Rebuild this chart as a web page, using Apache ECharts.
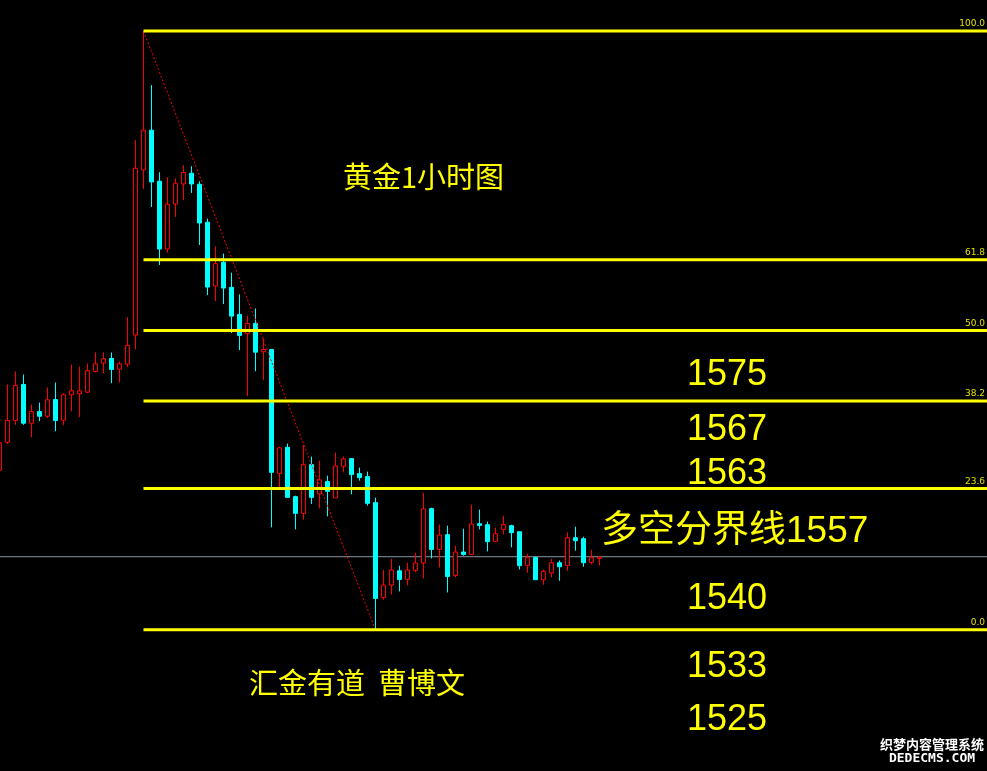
<!DOCTYPE html>
<html><head><meta charset="utf-8">
<script src="https://cdn.jsdelivr.net/npm/echarts@6/dist/echarts.min.js"></script>
<style>html,body{margin:0;padding:0;background:#000;overflow:hidden}#c{width:987px;height:771px}</style>
</head><body><div id="c"></div>
<script>
// [open, close, low, high] per 1-hour bar
const candles = [
[1556.13,1558.9,1556.1,1559.3],
[1558.93,1561.1,1558.77,1564.7],
[1561.1,1564.6,1560.67,1566.0],
[1564.7,1560.83,1560.67,1565.7],
[1560.83,1562.0,1559.43,1562.7],
[1562.0,1561.53,1561.03,1562.9],
[1561.53,1563.17,1561.33,1564.4],
[1563.2,1561.1,1560.03,1564.9],
[1561.13,1563.67,1560.63,1563.83],
[1563.67,1564.07,1562.03,1566.7],
[1563.77,1564.07,1561.43,1566.5],
[1563.93,1566.07,1563.83,1566.8],
[1566.0,1566.77,1565.9,1567.9],
[1566.83,1567.27,1565.83,1567.9],
[1567.3,1566.2,1564.83,1567.9],
[1566.23,1566.77,1564.9,1567.0],
[1566.73,1568.6,1566.43,1571.43],
[1569.63,1586.3,1568.2,1589.1],
[1586.13,1590.1,1584.23,1600.0],
[1590.1,1584.93,1582.43,1594.6],
[1585.0,1578.23,1576.63,1585.9],
[1578.23,1582.7,1577.87,1585.4],
[1582.73,1584.8,1581.43,1585.3],
[1584.73,1585.87,1583.13,1586.6],
[1585.8,1584.73,1583.83,1586.5],
[1584.7,1580.83,1578.63,1585.0],
[1580.9,1574.43,1573.63,1581.27],
[1574.53,1576.77,1573.03,1578.5],
[1576.9,1574.33,1572.73,1577.77],
[1574.4,1571.53,1569.83,1575.87],
[1571.7,1569.6,1568.13,1573.7],
[1569.77,1570.8,1563.53,1571.57],
[1570.8,1567.93,1566.03,1572.3],
[1567.97,1568.2,1565.13,1569.3],
[1568.2,1555.93,1550.43,1568.2],
[1555.83,1558.37,1554.4,1558.5],
[1558.43,1553.43,1553.4,1558.8],
[1553.5,1551.83,1550.23,1553.6],
[1551.83,1556.7,1551.2,1558.7],
[1556.7,1553.43,1552.77,1557.5],
[1553.77,1555.17,1552.33,1557.1],
[1555.0,1554.03,1551.53,1555.6],
[1553.37,1556.57,1553.37,1557.9],
[1556.53,1557.27,1555.93,1557.5],
[1557.3,1555.7,1553.73,1557.3],
[1555.8,1555.4,1555.1,1556.4],
[1555.5,1552.83,1552.6,1556.0],
[1552.9,1543.33,1540.2,1553.4],
[1543.43,1544.67,1543.2,1546.2],
[1544.67,1546.17,1543.73,1547.3],
[1546.1,1545.23,1544.03,1546.6],
[1545.23,1546.17,1544.63,1546.9],
[1546.13,1546.87,1545.93,1547.9],
[1546.87,1552.27,1545.33,1553.87],
[1552.3,1548.23,1547.33,1552.4],
[1548.23,1549.67,1546.43,1550.7],
[1549.7,1545.53,1543.93,1550.6],
[1545.63,1547.97,1545.43,1548.6],
[1547.97,1547.73,1547.6,1550.3],
[1547.73,1550.77,1547.73,1552.7],
[1550.8,1550.63,1550.23,1552.2],
[1550.7,1549.0,1548.03,1551.0],
[1549.03,1549.8,1548.93,1550.4],
[1550.23,1550.7,1549.73,1551.6],
[1550.6,1549.9,1548.43,1550.7],
[1550.0,1546.6,1546.23,1550.0],
[1546.63,1547.4,1545.9,1547.8],
[1547.43,1545.2,1545.2,1547.5],
[1545.2,1546.03,1544.7,1546.2],
[1545.87,1546.9,1545.43,1547.3],
[1546.9,1546.5,1545.1,1547.13],
[1546.63,1549.4,1546.1,1549.93],
[1549.4,1549.1,1548.1,1550.5],
[1549.3,1546.9,1546.5,1549.5],
[1546.93,1547.4,1546.73,1548.2],
[1547.33,1547.47,1546.63,1547.47]
];
const fibPercents = [100.0, 61.8, 50.0, 38.2, 23.6, 0.0];
const fibLabels = ['100.0', '61.8', '50.0', '38.2', '23.6', '0.0'];
const pivotPrice = 1547.5;
const priceNotes = ['1575', '1567', '1563', '1540', '1533', '1525'];
const titleText = '黄金1小时图';
const pivotText = '多空分界线1557';
const authorText = '汇金有道  曹博文';
const watermark = ['织梦内容管理系统', 'DEDECMS.COM'];
const slotCount = 125;

const categories = Array.from({length: slotCount}, (_, i) => 'H' + i);

// swing high / low from data
let hiIdx = 0, loIdx = 0;
candles.forEach((c, i) => {
  if (c[3] > candles[hiIdx][3]) hiIdx = i;
  if (c[2] < candles[loIdx][2]) loIdx = i;
});
const hi = candles[hiIdx][3], lo = candles[loIdx][2];
const fibValues = fibPercents.map(p => lo + (hi - lo) * p / 100);
const lastSlot = slotCount - 1;

const chart = echarts.init(document.getElementById('c'), null, {renderer: 'canvas'});

const series = [];
series.push({
  type: 'line', silent: true, z: 1, symbol: 'none', animation: false, clip: false,
  data: [[0, pivotPrice], [lastSlot, pivotPrice]],
  lineStyle: {color: '#8a96a6', width: 1}
});
series.push({
  type: 'candlestick', z: 2, barWidth: 4, animation: false, clip: false,
  data: candles,
  itemStyle: {
    color: '#000000', borderColor: '#ff0000',
    color0: '#00ffff', borderColor0: '#00ffff',
    borderColorDoji: '#ff0000', borderWidth: 1
  }
});
series.push({
  type: 'line', silent: true, z: 3, symbol: 'none', animation: false,
  data: [[hiIdx, hi], [loIdx, lo]],
  lineStyle: {color: '#ff0000', width: 1, type: [2, 2]}
});
fibValues.forEach(v => {
  series.push({
    type: 'line', silent: true, z: 4, symbol: 'none', animation: false, clip: false,
    data: [[hiIdx, v], [lastSlot, v]],
    lineStyle: {color: '#ffff00', width: 3, cap: 'butt'}
  });
});

const txt = (text, x, y, size, family, extra) => Object.assign({
  type: 'text', x: x, y: y, silent: true, z: 100,
  style: Object.assign({
    text: text, fill: '#ffff00', fontSize: size, fontFamily: family,
    textVerticalAlign: 'middle', verticalAlign: 'middle', textAlign: 'left', align: 'left'
  }, extra || {})
});

const latin = '"Liberation Sans", "Noto Sans CJK SC", sans-serif';
const cjk = '"Noto Sans CJK SC", sans-serif';
const noteY = [375.5, 430.5, 474.3, 599, 667, 720];

const graphics = [
  txt(titleText, 343, 177, 29, cjk),
  txt(pivotText, 601, 532, 37, latin),
  txt(authorText, 249, 683, 29, cjk, {text: '汇金有道\u3000曹博文'.replace('\u3000', '  ')})
];
priceNotes.forEach((t, i) => graphics.push(txt(t, 687, noteY[i], 36, latin)));
graphics.push(txt(watermark[0], 932, 744, 13, cjk, {
  fill: '#ffffff', stroke: '#000000', lineWidth: 2, fontWeight: 'bold',
  textAlign: 'center', align: 'center'}));
graphics.push(txt(watermark[1], 932, 759, 13, '"DejaVu Sans Mono", monospace', {
  fill: '#ffffff', stroke: '#000000', lineWidth: 2, fontWeight: 'bold',
  textAlign: 'center', align: 'center'}));
graphics[2].style.text = authorText;

chart.setOption({
  backgroundColor: '#000000',
  animation: false,
  grid: {left: -4.5, top: 0, width: 8 * slotCount, height: 771,
         containLabel: false, outerBoundsMode: 'none'},
  xAxis: {type: 'category', data: categories, boundaryGap: true, show: false},
  yAxis: {type: 'value', min: 1526.1, max: 1603.1, show: false, splitLine: {show: false}},
  series: series,
  graphic: graphics
});

// Fibonacci percent labels at the right edge, placed through the y scale
const fibTexts = fibValues.map((v, i) => {
  const py = chart.convertToPixel({yAxisIndex: 0}, v);
  return txt(fibLabels[i], 985, py - 7, 9, '"DejaVu Sans", sans-serif', {
    fill: '#e0e000', textAlign: 'right', align: 'right'});
});
chart.setOption({graphic: graphics.concat(fibTexts)});
</script>
</body></html>
